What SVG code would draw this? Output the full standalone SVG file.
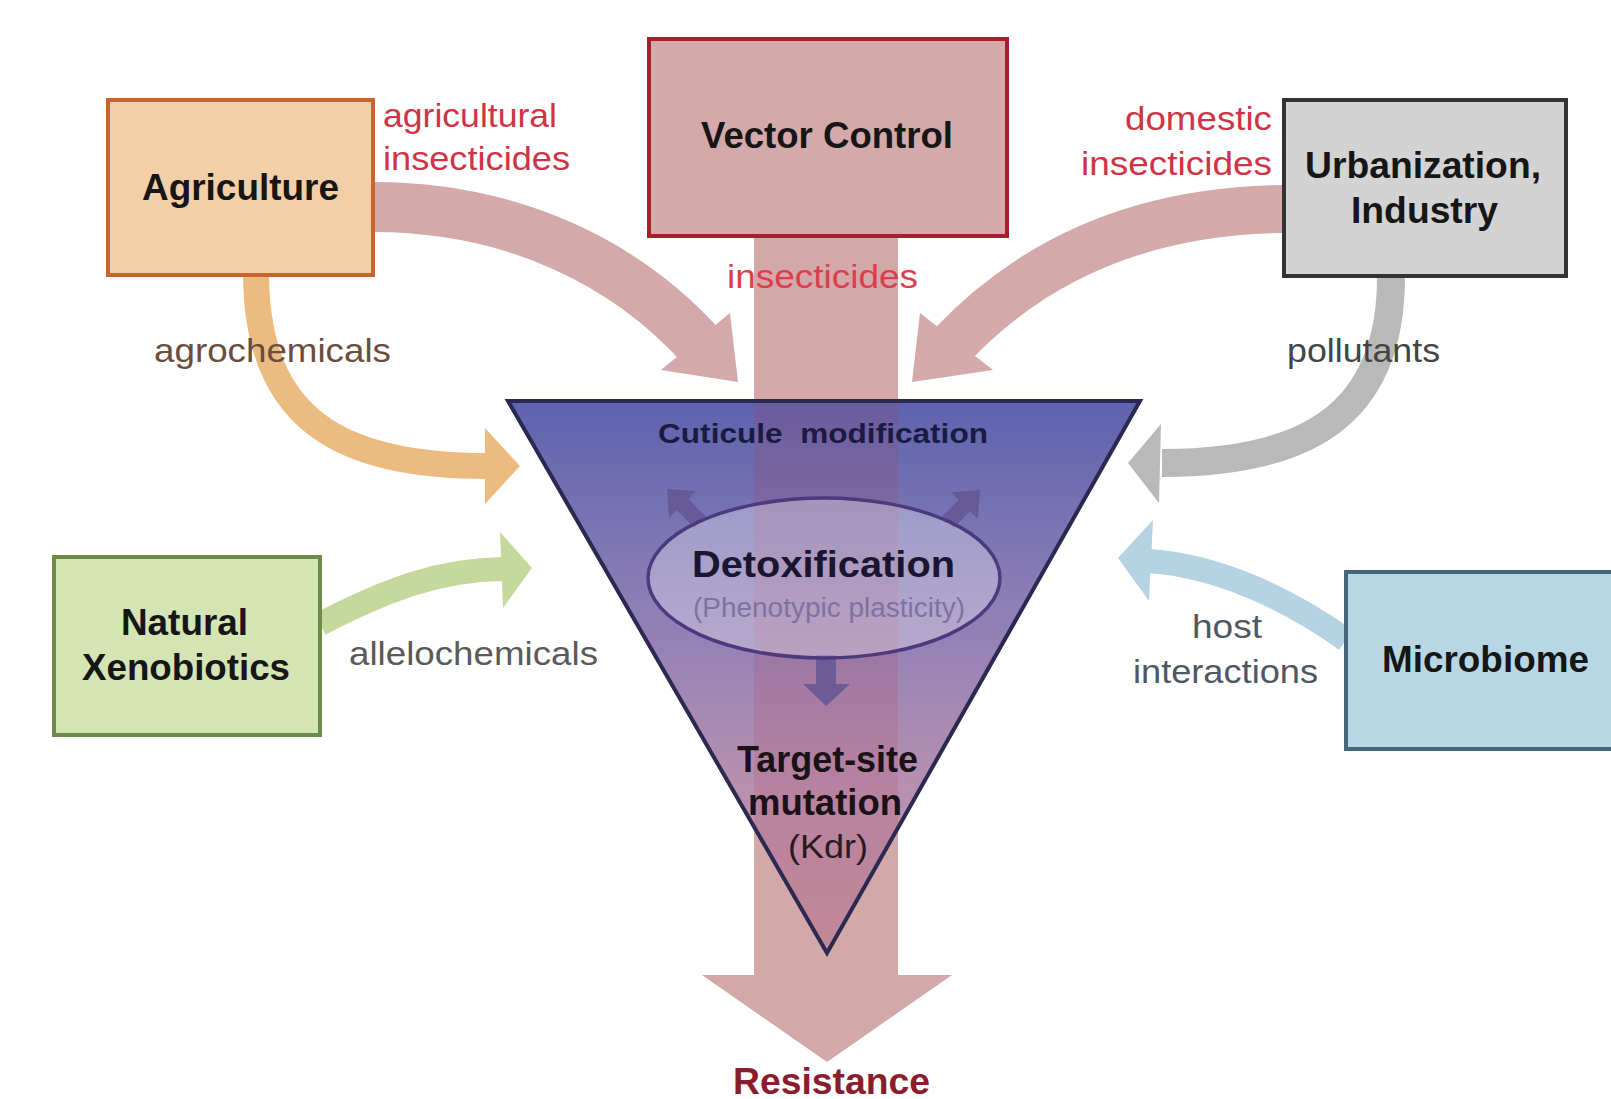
<svg xmlns="http://www.w3.org/2000/svg" width="1611" height="1099" viewBox="0 0 1611 1099">
  <style>
    text { font-family: "Liberation Sans", Arial, sans-serif; }
    .box { stroke-width: 4; }
    .bt { font-weight: bold; font-size: 36px; }
    .red { font-size: 34px; }
    .gray { font-size: 34px; }
    .band { fill: none; stroke-linecap: butt; }
  </style>
  <defs>
    <linearGradient id="triFill" x1="0" y1="401" x2="0" y2="953" gradientUnits="userSpaceOnUse">
      <stop offset="0" stop-color="#5d63ad"/>
      <stop offset="0.38" stop-color="#8e7fb7"/>
      <stop offset="0.7" stop-color="#b890b0"/>
      <stop offset="1" stop-color="#c696a4"/>
    </linearGradient>
    <clipPath id="triClip">
      <polygon points="508,401 1140,401 827,953"/>
    </clipPath>
  </defs>

  <rect width="1611" height="1099" fill="#ffffff"/>

  <!-- connectors -->
  <g id="connectors">
    <!-- agricultural insecticides -->
    <path class="band" d="M373,207 C520,207 630,268 700,345" stroke="#d4a9aa" stroke-width="50"/>
    <polygon points="661,370 730,313 738,382" fill="#d4a9aa"/>
    <!-- domestic insecticides -->
    <path class="band" d="M1286,209 C1130,210 1025,268 952,345" stroke="#d4a9aa" stroke-width="48"/>
    <polygon points="993,370 920,313 912,382" fill="#d4a9aa"/>
    <!-- agrochemicals -->
    <path class="band" d="M256,277 C258,420 340,466 488,466" stroke="#ebbb80" stroke-width="26"/>
    <polygon points="485,428 485,504 520,466" fill="#ebbb80"/>
    <!-- pollutants -->
    <path class="band" d="M1391,277 C1391,420 1300,463 1162,463" stroke="#b9b9b9" stroke-width="28"/>
    <polygon points="1161,424 1159,503 1128,463" fill="#b9b9b9"/>
    <!-- allelochemicals -->
    <path class="band" d="M320,624 C390,588 440,570 503,569" stroke="#c4d99b" stroke-width="24"/>
    <polygon points="500,532 503,608 532,568" fill="#c4d99b"/>
    <!-- host interactions -->
    <path class="band" d="M1346,640 C1290,600 1220,566 1149,561" stroke="#b6d3e3" stroke-width="24"/>
    <polygon points="1153,520 1149,601 1118,558" fill="#b6d3e3"/>
    <!-- insecticides: main downward arrow -->
    <path d="M754,236 L898,236 L898,975 L952,975 L827,1062 L702,975 L754,975 Z" fill="#d3a8a8"/>
  </g>

  <!-- resistance mechanisms funnel -->
  <g id="funnel">
    <polygon points="508,401 1140,401 827,953" fill="url(#triFill)"/>
    <rect x="754" y="395" width="144" height="560" fill="#b83848" opacity="0.15" clip-path="url(#triClip)"/>
    <polygon points="508,401 1140,401 827,953" fill="none" stroke="#2b2952" stroke-width="4" stroke-linejoin="miter"/>
    <!-- arrows out of detoxification -->
    <g fill="#655694" opacity="0.85">
      <polygon points="667,489 696,491 688.3,498.9 705.7,516.3 694.3,527.7 676.9,510.3 669,518"/>
      <polygon points="980,490 977.8,519 970,511.2 953.7,527.7 942.3,516.3 958.7,499.9 951,492.2"/>
      <polygon points="816,655 836,655 836,684 850,684 826,706 803,684 816,684"/>
    </g>
    <text x="658" y="443" font-weight="bold" font-size="28" fill="#1b1a42" textLength="330" lengthAdjust="spacingAndGlyphs" xml:space="preserve">Cuticule  modification</text>
  </g>

  <g id="detoxification">
    <ellipse cx="824" cy="578" rx="176" ry="80" fill="#ffffff" fill-opacity="0.3" stroke="#4b3b7c" stroke-width="3.5"/>
    <text x="692" y="577" class="bt" font-size="37" fill="#1a1530" textLength="263" lengthAdjust="spacingAndGlyphs">Detoxification</text>
    <text x="693" y="617" font-size="27" fill="#7f72a2" textLength="272" lengthAdjust="spacingAndGlyphs">(Phenotypic plasticity)</text>
  </g>

  <g id="target-site">
    <text x="737" y="772" class="bt" fill="#1a1216" textLength="181" lengthAdjust="spacingAndGlyphs">Target-site</text>
    <text x="748" y="815" class="bt" fill="#1a1216" textLength="154" lengthAdjust="spacingAndGlyphs">mutation</text>
    <text x="788" y="858" font-size="33" fill="#2a1a20" textLength="80" lengthAdjust="spacingAndGlyphs">(Kdr)</text>
  </g>

  <g id="agriculture">
    <rect class="box" x="108" y="100" width="265" height="175" fill="#f2cfa6" stroke="#c7662c"/>
    <text x="142" y="200" class="bt" fill="#161616" textLength="197" lengthAdjust="spacingAndGlyphs">Agriculture</text>
  </g>

  <g id="vector-control">
    <rect class="box" x="649" y="39" width="358" height="197" fill="#d4a9a9" stroke="#a2212b"/>
    <text x="701" y="148" class="bt" fill="#161616" textLength="252" lengthAdjust="spacingAndGlyphs">Vector Control</text>
  </g>

  <g id="urbanization">
    <rect class="box" x="1284" y="100" width="282" height="176" fill="#d3d3d3" stroke="#333333"/>
    <text x="1305" y="178" class="bt" fill="#161616" textLength="236" lengthAdjust="spacingAndGlyphs">Urbanization,</text>
    <text x="1351" y="223" class="bt" fill="#161616" textLength="147" lengthAdjust="spacingAndGlyphs">Industry</text>
  </g>

  <g id="natural-xenobiotics">
    <rect class="box" x="54" y="557" width="266" height="178" fill="#d5e4b3" stroke="#6d8a48"/>
    <text x="121" y="635" class="bt" fill="#161616" textLength="127" lengthAdjust="spacingAndGlyphs">Natural</text>
    <text x="82" y="680" class="bt" fill="#161616" textLength="208" lengthAdjust="spacingAndGlyphs">Xenobiotics</text>
  </g>

  <g id="microbiome">
    <rect class="box" x="1346" y="572" width="300" height="177" fill="#b9d6e4" stroke="#45677c"/>
    <text x="1382" y="672" class="bt" fill="#161616" textLength="207" lengthAdjust="spacingAndGlyphs">Microbiome</text>
  </g>

  <!-- connector labels -->
  <g id="labels">
    <text x="383" y="127" class="red" fill="#cf3446" textLength="174" lengthAdjust="spacingAndGlyphs">agricultural</text>
    <text x="383" y="170" class="red" fill="#cf3446" textLength="187" lengthAdjust="spacingAndGlyphs">insecticides</text>
    <text x="727" y="288" class="red" fill="#dd3e4e" textLength="191" lengthAdjust="spacingAndGlyphs">insecticides</text>
    <text x="1125" y="130" class="red" fill="#cf3446" textLength="147" lengthAdjust="spacingAndGlyphs">domestic</text>
    <text x="1081" y="175" class="red" fill="#cf3446" textLength="191" lengthAdjust="spacingAndGlyphs">insecticides</text>
    <text x="154" y="362" class="gray" fill="#6b4c3e" textLength="237" lengthAdjust="spacingAndGlyphs">agrochemicals</text>
    <text x="1287" y="362" class="gray" fill="#444444" textLength="153" lengthAdjust="spacingAndGlyphs">pollutants</text>
    <text x="349" y="665" class="gray" fill="#5a5a5a" textLength="249" lengthAdjust="spacingAndGlyphs">allelochemicals</text>
    <text x="1192" y="638" class="gray" fill="#4e5863" textLength="70" lengthAdjust="spacingAndGlyphs">host</text>
    <text x="1133" y="683" class="gray" fill="#4e5863" textLength="185" lengthAdjust="spacingAndGlyphs">interactions</text>
    <text x="733" y="1094" class="bt" fill="#8b1c2c" textLength="197" lengthAdjust="spacingAndGlyphs">Resistance</text>
  </g>
</svg>
